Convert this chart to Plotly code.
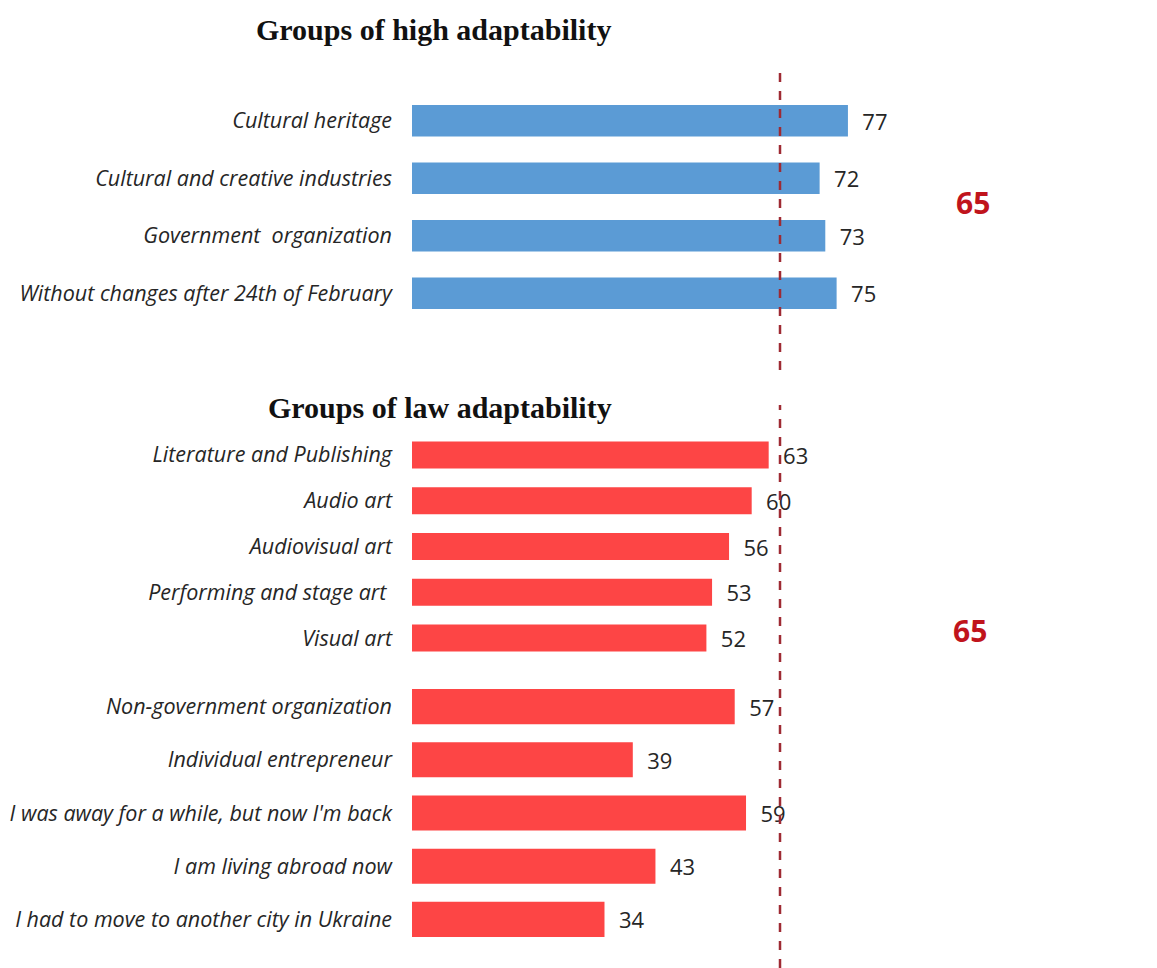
import plotly.graph_objects as go

# ---- data ----
high_labels = ["Cultural heritage", "Cultural and creative industries",
               "Government  organization", "Without changes after 24th of February"]
high_values = [77, 72, 73, 75]

low_art_labels = ["Literature and Publishing", "Audio art", "Audiovisual art",
                  "Performing and stage art ", "Visual art"]
low_art_values = [63, 60, 56, 53, 52]

low_other_labels = ["Non-government organization", "Individual entrepreneur",
                    "I was away for a while, but now I'm back", "I am living abroad now",
                    "I had to move to another city in Ukraine"]
low_other_values = [57, 39, 59, 43, 34]

average = 65
title_high = "Groups of high adaptability"
title_low = "Groups of law adaptability"

W, H = 1157, 968
BLUE = "#5b9bd5"
RED = "#fd4545"
LINE = "#9e2a33"
LABEL_FONT = dict(family="Open Sans", size=21.5, color="#262626", style="italic")
VALUE_FONT = dict(family="Open Sans", size=22, color="#262626")

x_domain = [412 / W, 1.0]
x_range = [0, (W - 412) / ((780 - 412) / average)]

fig = go.Figure()

panels = [
    (high_labels, high_values, BLUE, "x", "y", 0.55),
    (low_art_labels, low_art_values, RED, "x2", "y2", 0.59),
    (low_other_labels, low_other_values, RED, "x3", "y3", 0.66),
]
for labels, values, color, xa, ya, bw in panels:
    fig.add_trace(go.Bar(
        x=values, y=labels, orientation="h", xaxis=xa, yaxis=ya,
        marker=dict(color=color, line=dict(width=0)), width=bw,
        text=["  " + str(v) for v in values], textposition="outside",
        constraintext="none",
        textfont=VALUE_FONT, cliponaxis=False, showlegend=False,
        hoverinfo="x+y",
    ))

def px_to_paper(y0, y1):
    return [1 - y1 / H, 1 - y0 / H]

ydomains = {
    "yaxis": px_to_paper(92, 322),
    "yaxis2": px_to_paper(432, 661),
    "yaxis3": px_to_paper(680, 946),
}

layout_axes = {}
for i, (name, dom) in enumerate(ydomains.items(), start=1):
    suffix = "" if i == 1 else str(i)
    layout_axes["xaxis" + suffix] = dict(
        domain=x_domain, range=x_range, visible=False, fixedrange=True,
        anchor="y" + suffix)
    layout_axes[name] = dict(
        domain=dom, autorange="reversed", showgrid=False, zeroline=False,
        showline=False, ticks="", tickfont=LABEL_FONT, ticklabelstandoff=19,
        anchor="x" + suffix, automargin=False)

fig.update_layout(**layout_axes)

# dashed average lines
for y0, y1, xa in [(65, 370, "x"), (405, 968, "x2")]:
    d = px_to_paper(y0, y1)
    fig.add_shape(type="line", xref=xa, yref="paper", x0=average, x1=average,
                  y0=d[0], y1=d[1], line=dict(color=LINE, width=2.5, dash="dash"))

# titles
title_font = dict(family="Liberation Serif", size=30, color="#111111")
fig.add_annotation(text="<b>" + title_high + "</b>", xref="paper", yref="paper",
                   x=433 / W, y=1 - 30 / H, xanchor="center", yanchor="middle",
                   showarrow=False, font=title_font)
fig.add_annotation(text="<b>" + title_low + "</b>", xref="paper", yref="paper",
                   x=440 / W, y=1 - 408 / H, xanchor="center", yanchor="middle",
                   showarrow=False, font=title_font)

# average value labels
avg_font = dict(family="Open Sans", size=30, color="#c0141c")
fig.add_annotation(text="<b>%d</b>" % average, xref="paper", yref="paper",
                   x=973 / W, y=1 - 202 / H, xanchor="center", yanchor="middle",
                   showarrow=False, font=avg_font)
fig.add_annotation(text="<b>%d</b>" % average, xref="paper", yref="paper",
                   x=970 / W, y=1 - 630 / H, xanchor="center", yanchor="middle",
                   showarrow=False, font=avg_font)

fig.update_layout(
    width=W, height=H, margin=dict(l=0, r=0, t=0, b=0),
    paper_bgcolor="white", plot_bgcolor="white",
    bargap=0.4,
)

fig.write_html("out.html")
